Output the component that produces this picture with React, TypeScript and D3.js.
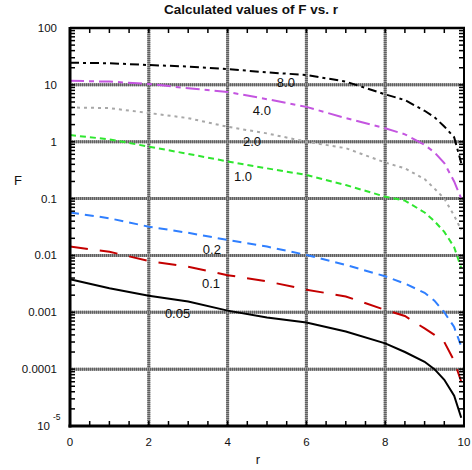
import React from "react";
import * as d3 from "d3";

const rValues = [0, 1, 2, 3, 4, 5, 6, 7, 8, 8.5, 9, 9.25, 9.5, 9.75, 9.93];
const f80 = [24.5, 24, 22.3, 21, 19, 16.6, 14.9, 11.4, 6.8, 5.4, 3.5, 2.7, 1.85, 1.2, 0.42];
const f40 = [11.8, 11.4, 10.4, 8.7, 7.5, 5.6, 4.1, 2.6, 1.72, 1.35, 0.88, 0.65, 0.42, 0.2, 0.1];
const f20 = [4.0, 3.9, 3.2, 2.6, 1.83, 1.4, 1.0, 0.77, 0.43, 0.34, 0.22, 0.15, 0.1, 0.05, 0.028];
const f10 = [1.31, 1.1, 0.82, 0.61, 0.45, 0.34, 0.26, 0.173, 0.108, 0.092, 0.057, 0.04, 0.026, 0.014, 0.006];
const f02 = [0.057, 0.045, 0.032, 0.025, 0.0187, 0.0143, 0.0102, 0.0068, 0.0043, 0.0032, 0.0022, 0.0016, 0.001, 0.00055, 0.00025];
const f01 = [0.0143, 0.0116, 0.008, 0.0063, 0.0045, 0.0035, 0.0025, 0.0019, 0.0011, 0.00086, 0.00052, 0.0004, 0.0003, 0.00014, 0.00006];
const f005 = [0.0038, 0.00264, 0.00196, 0.00155, 0.00107, 0.00081, 0.00066, 0.00046, 0.000284, 0.0002, 0.000135, 0.0001, 0.000065, 0.000034, 0.000014];

const seriesNames = ["8.0", "4.0", "2.0", "1.0", "0.2", "0.1", "0.05"];
const seriesValues = [f80, f40, f20, f10, f02, f01, f005];
const seriesColors = ["#000000", "#c455e0", "#a8a8a8", "#2fe62f", "#2f7fff", "#c40000", "#000000"];
const seriesDashes = ["9,4,3,4", "14,5,5,5", "3,4", "6,4", "9,6", "18,12", null];
const labelR = [5.48, 4.87, 4.62, 4.39, 3.6, 3.58, 2.73];
const labelF = [10.9, 3.6, 1.03, 0.25, 0.013, 0.0032, 0.00096];

const xTicks = [0, 2, 4, 6, 8, 10];
const xMinor = d3.range(0, 10.01, 0.5);
const yTicks = [100, 10, 1, 0.1, 0.01, 0.001, 0.0001];
const yTickLabels = ["100", "10", "1", "0.1", "0.01", "0.001", "0.0001"];

const FONT = "'Liberation Sans', Arial, Helvetica, sans-serif";

export default function App() {
  const W = 472, H = 470;
  const x = d3.scaleLinear().domain([0, 10]).range([70, 464]);
  const y = d3.scaleLog().domain([1e-5, 100]).range([426, 28]);
  const [x0, x1] = x.range();
  const [yb, yt] = y.range();

  const yMinor: number[] = [];
  for (let e = -5; e < 2; e++) {
    for (let m = 1; m <= 9; m++) yMinor.push(m * Math.pow(10, e));
  }
  yMinor.push(100);

  const line = d3
    .line<[number, number]>()
    .x((d) => x(d[0]))
    .y((d) => y(d[1]));

  const gridX = xTicks.filter((t) => t > 0 && t < 10);
  const gridY = yTicks.filter((t) => t < 100 && t > 1e-5);

  return (
    <svg width={W} height={H} style={{ position: "absolute", left: 0, top: 0, background: "#fff" }} fontFamily={FONT}>
      <rect x={0} y={0} width={W} height={H} fill="#fff" />
      {/* grid */}
      <g>
        {gridX.map((t) => (
          <g key={"gx" + t}>
            <line x1={x(t)} x2={x(t)} y1={yt} y2={yb} stroke="#999" strokeWidth={3} />
            <line x1={x(t)} x2={x(t)} y1={yt} y2={yb} stroke="#606060" strokeWidth={3} strokeDasharray="1,1" />
          </g>
        ))}
        {gridY.map((t) => (
          <g key={"gy" + t}>
            <line x1={x0} x2={x1} y1={y(t)} y2={y(t)} stroke="#999" strokeWidth={3} />
            <line x1={x0} x2={x1} y1={y(t)} y2={y(t)} stroke="#606060" strokeWidth={3} strokeDasharray="1,1" />
          </g>
        ))}
      </g>
      {/* series */}
      <g fill="none">
        {seriesValues.map((vals, i) => (
          <path
            key={seriesNames[i]}
            d={line(rValues.map((r, j) => [r, vals[j]] as [number, number])) || ""}
            stroke={seriesColors[i]}
            strokeWidth={2}
            strokeDasharray={seriesDashes[i] || undefined}
          />
        ))}
      </g>
      {/* series labels */}
      <g fontSize={13} textAnchor="middle" fill="#111">
        {seriesNames.map((n, i) => (
          <text key={"l" + n} x={x(labelR[i])} y={y(labelF[i])} dy="0.36em">
            {n}
          </text>
        ))}
      </g>
      {/* ticks */}
      <g stroke="#000" strokeWidth={1.5}>
        {xMinor.map((t) => (
          <g key={"xt" + t}>
            <line x1={x(t)} x2={x(t)} y1={yb} y2={yb - 5} />
            <line x1={x(t)} x2={x(t)} y1={yt} y2={yt + 5} />
          </g>
        ))}
        {yMinor.map((t, i) => (
          <g key={"yt" + i}>
            <line x1={x0} x2={x0 + 5} y1={y(t)} y2={y(t)} />
            <line x1={x1} x2={x1 - 5} y1={y(t)} y2={y(t)} />
          </g>
        ))}
      </g>
      {/* frame */}
      <g stroke="#000" fill="none">
        <line x1={x0} x2={x0} y1={yt - 1} y2={yb + 1.5} strokeWidth={3} />
        <line x1={x0 - 1.5} x2={x1 + 1} y1={yb} y2={yb} strokeWidth={3} />
        <line x1={x0} x2={x1 + 1} y1={yt} y2={yt} strokeWidth={2.5} />
        <line x1={x1} x2={x1} y1={yt} y2={yb} strokeWidth={2} />
      </g>
      {/* tick labels */}
      <g fontSize={11.5} fill="#111">
        {xTicks.map((t) => (
          <text key={"xl" + t} x={x(t)} y={446} textAnchor="middle">
            {t}
          </text>
        ))}
        {yTicks.map((t, i) => (
          <text key={"yl" + t} x={57} y={y(t)} dy="0.35em" textAnchor="end">
            {yTickLabels[i]}
          </text>
        ))}
        <text x={50} y={y(1e-5)} dy="0.35em" textAnchor="end">
          10
        </text>
        <text x={53} y={y(1e-5) - 6} fontSize={8.5} textAnchor="start">
          -5
        </text>
      </g>
      {/* axis titles */}
      <text x={18} y={180} dy="0.35em" fontSize={13} textAnchor="middle" fill="#111">
        F
      </text>
      <text x={258} y={459} dy="0.35em" fontSize={13} textAnchor="middle" fill="#111">
        r
      </text>
      <text x={251} y={14} fontSize={13.5} fontWeight="bold" textAnchor="middle" fill="#111">
        Calculated values of F vs. r
      </text>
    </svg>
  );
}
